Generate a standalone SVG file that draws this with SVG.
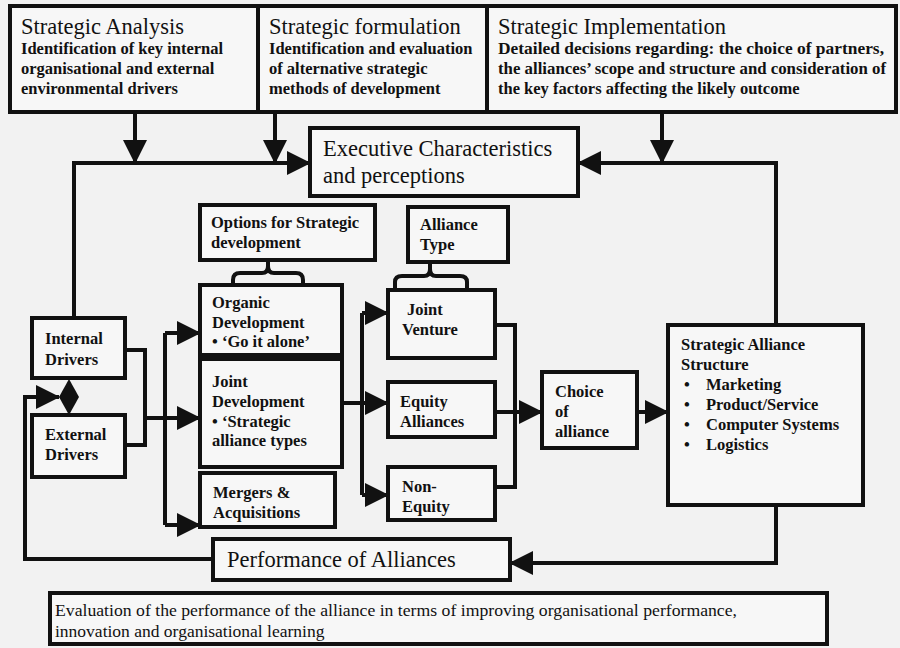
<svg xmlns="http://www.w3.org/2000/svg" width="900" height="648" viewBox="0 0 900 648">
<defs>
<marker id="ah" markerUnits="userSpaceOnUse" markerWidth="24" markerHeight="24" refX="23" refY="12" orient="auto">
<path d="M0,0 L24,12 L0,24 z" fill="#111"/>
</marker>
</defs>
<style>
.bx{fill:#f7f7f7;stroke:#111;stroke-width:4}
.cn{fill:none;stroke:#111;stroke-width:4}
.ar{fill:none;stroke:#111;stroke-width:4;marker-end:url(#ah)}
text{font-family:"Liberation Serif","Times New Roman",serif;fill:#111}
.t{font-size:22.5px}
.s{font-size:16.5px;font-weight:bold}
.m{font-size:16.5px;font-weight:bold}
.e{font-size:17.5px}
</style>
<rect x="0" y="0" width="900" height="648" fill="#f2f2f2"/>

<g id="strategic-analysis">
<rect class="bx" x="10" y="6" width="248" height="106"/>
<text class="t" x="21" y="34">Strategic Analysis</text>
<text class="s" x="21" y="54">Identification of key internal</text>
<text class="s" x="21" y="74">organisational and external</text>
<text class="s" x="21" y="94">environmental drivers</text>
</g>
<g id="strategic-formulation">
<rect class="bx" x="258" y="6" width="229" height="106"/>
<text class="t" x="269" y="34">Strategic formulation</text>
<text class="s" x="269" y="54">Identification and evaluation</text>
<text class="s" x="269" y="74">of alternative strategic</text>
<text class="s" x="269" y="94">methods of development</text>
</g>
<g id="strategic-implementation">
<rect class="bx" x="487" y="6" width="409" height="106"/>
<text class="t" x="498" y="34">Strategic Implementation</text>
<text class="s" x="498" y="54" textLength="386" lengthAdjust="spacingAndGlyphs">Detailed decisions regarding: the choice of partners,</text>
<text class="s" x="498" y="74" textLength="388" lengthAdjust="spacingAndGlyphs">the alliances’ scope and structure and consideration of</text>
<text class="s" x="498" y="94">the key factors affecting the likely outcome</text>
</g>
<g id="executive">
<rect class="bx" x="310" y="128" width="268" height="68"/>
<text class="t" x="323" y="156">Executive Characteristics</text>
<text class="t" x="323" y="183">and perceptions</text>
</g>
<g id="internal-drivers">
<rect class="bx" x="32" y="318" width="93" height="60"/>
<text class="m" x="45" y="344">Internal</text>
<text class="m" x="45" y="365">Drivers</text>
</g>
<g id="external-drivers">
<rect class="bx" x="32" y="415" width="93" height="62"/>
<text class="m" x="45" y="440">External</text>
<text class="m" x="45" y="460">Drivers</text>
</g>
<g id="options">
<rect class="bx" x="200" y="205" width="175" height="55"/>
<text class="m" x="211" y="228">Options for Strategic</text>
<text class="m" x="211" y="248">development</text>
<path class="cn" d="M233,287 V280 Q233,273 240,273 H262 Q268,273 268,266 V260 M303,287 V280 Q303,273 296,273 H274 Q268,273 268,266"/>
</g>
<g id="organic">
<rect class="bx" x="200" y="285" width="142" height="70"/>
<text class="m" x="212" y="308">Organic</text>
<text class="m" x="212" y="328">Development</text>
<text class="m" x="212" y="347">• ‘Go it alone’</text>
</g>
<g id="joint-development">
<rect class="bx" x="200" y="359" width="142" height="108"/>
<text class="m" x="212" y="387">Joint</text>
<text class="m" x="212" y="407">Development</text>
<text class="m" x="212" y="427">• ‘Strategic</text>
<text class="m" x="212" y="446">alliance types</text>
</g>
<g id="mergers">
<rect class="bx" x="200" y="473" width="135" height="54"/>
<text class="m" x="213" y="498">Mergers &amp;</text>
<text class="m" x="213" y="518">Acquisitions</text>
</g>
<g id="alliance-type">
<rect class="bx" x="408" y="207" width="100" height="55"/>
<text class="m" x="420" y="230">Alliance</text>
<text class="m" x="420" y="250">Type</text>
<path class="cn" d="M395,288 V282 Q395,276 402,276 H424 Q430,276 430,269 V262 M467,288 V282 Q467,276 460,276 H436 Q430,276 430,269"/>
</g>
<g id="joint-venture">
<rect class="bx" x="388" y="290" width="107" height="68"/>
<text class="m" x="407" y="315">Joint</text>
<text class="m" x="402" y="335">Venture</text>
</g>
<g id="equity">
<rect class="bx" x="388" y="382" width="107" height="55"/>
<text class="m" x="400" y="407">Equity</text>
<text class="m" x="400" y="427">Alliances</text>
</g>
<g id="non-equity">
<rect class="bx" x="388" y="467" width="107" height="53"/>
<text class="m" x="402" y="492">Non-</text>
<text class="m" x="402" y="512">Equity</text>
</g>
<g id="choice">
<rect class="bx" x="542" y="372" width="95" height="76"/>
<text class="m" x="555" y="397">Choice</text>
<text class="m" x="555" y="417">of</text>
<text class="m" x="555" y="437">alliance</text>
</g>
<g id="alliance-structure">
<rect class="bx" x="668" y="325" width="195" height="180"/>
<text class="m" x="681" y="350">Strategic Alliance</text>
<text class="m" x="681" y="370">Structure</text>
<text class="m" x="684" y="390">•</text><text class="m" x="706" y="390">Marketing</text>
<text class="m" x="684" y="410">•</text><text class="m" x="706" y="410">Product/Service</text>
<text class="m" x="684" y="430">•</text><text class="m" x="706" y="430">Computer Systems</text>
<text class="m" x="684" y="450">•</text><text class="m" x="706" y="450">Logistics</text>
</g>
<g id="performance">
<rect class="bx" x="213" y="539" width="297" height="41"/>
<text class="t" x="227" y="567">Performance of Alliances</text>
</g>
<g id="evaluation">
<rect class="bx" x="50" y="593" width="777" height="51"/>
<text class="e" x="55" y="616" textLength="682" lengthAdjust="spacingAndGlyphs">Evaluation of the performance of the alliance in terms of improving organisational performance,</text>
<text class="e" x="55" y="637">innovation and organisational learning</text>
</g>

<g id="connectors">
<path class="ar" d="M135,112 V163"/>
<path class="ar" d="M275,112 V163"/>
<path class="ar" d="M662,112 V163"/>
<path class="ar" d="M74,318 V163 H310"/>
<path class="ar" d="M776,325 V163 H578"/>
<path class="cn" d="M125,350 H145 V445 H125"/>
<path class="ar" d="M145,418 H200"/>
<path class="cn" d="M165,333 V525"/>
<path class="ar" d="M165,333 H200"/>
<path class="ar" d="M165,525 H200"/>
<path class="ar" d="M342,403 H388"/>
<path class="cn" d="M362,313 V495"/>
<path class="ar" d="M362,313 H388"/>
<path class="ar" d="M362,495 H388"/>
<path class="cn" d="M495,325 H515 V487 H495"/>
<path class="ar" d="M495,412 H542"/>
<path class="ar" d="M637,412 H668"/>
<path class="ar" d="M776,505 V563 H510"/>
<path class="ar" d="M213,559 H25 V397 H59"/>
<polygon points="69,379 79,397 69,415 59,397" fill="#111"/>
</g>
</svg>
